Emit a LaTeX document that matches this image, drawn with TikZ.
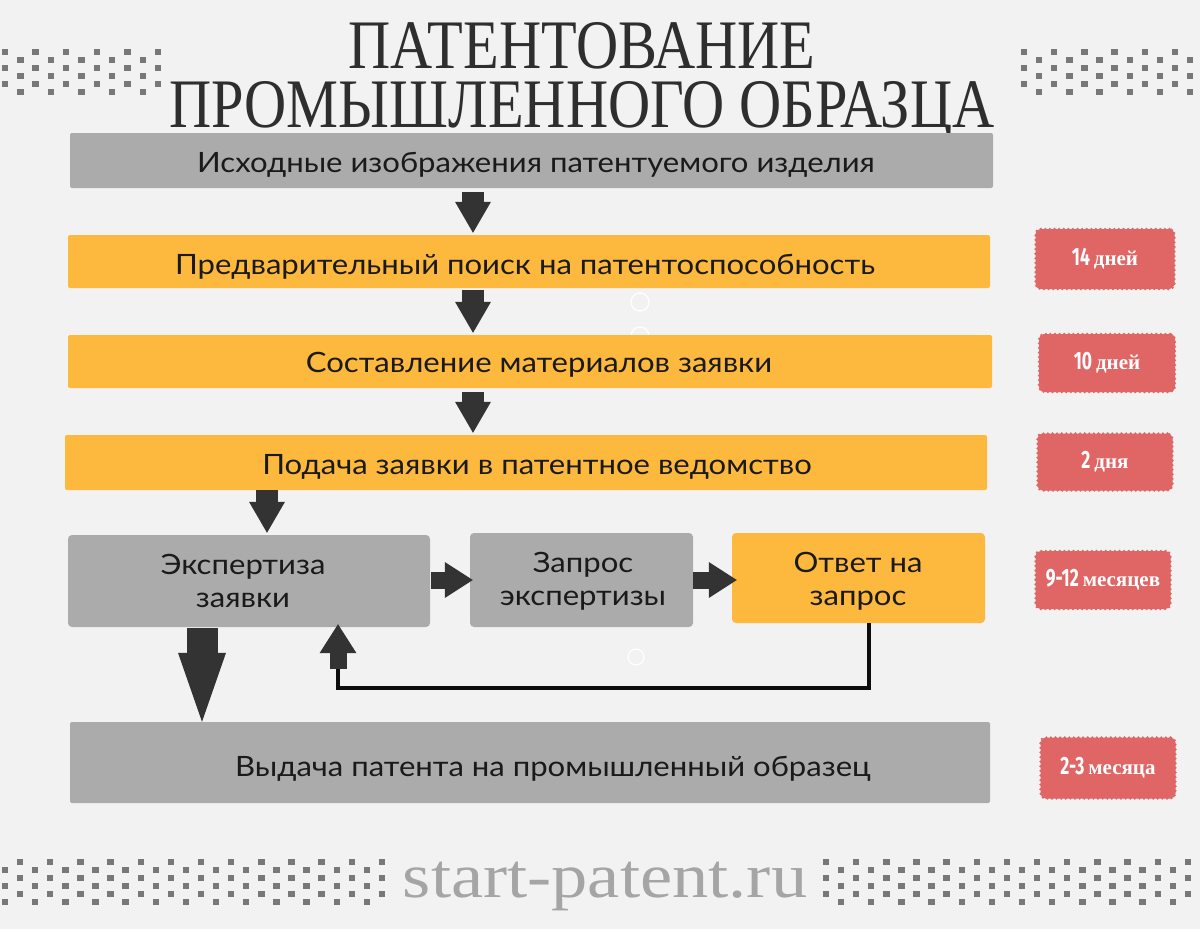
\documentclass[tikz,border=0pt]{standalone}
\usepackage{fontspec}
\usetikzlibrary{arrows.meta,calc}
\setmainfont{Liberation Serif}
\newfontfamily\titlefont{Liberation Serif}[FakeStretch=0.84]
\newfontfamily\boxfont{Lato}[FakeStretch=1.11]
\newfontfamily\numfont{Fira Sans}[FakeStretch=0.7]
\newfontfamily\unitfont{Liberation Serif}
\newfontfamily\sitefont{Liberation Serif}[FakeStretch=1.15]
\definecolor{bgc}{HTML}{F2F2F2}
\definecolor{barGray}{HTML}{ABABAB}
\definecolor{barOrange}{HTML}{FDB93D}
\definecolor{badgeRed}{HTML}{E06666}
\definecolor{arrowDark}{HTML}{333333}
\definecolor{txtDark}{HTML}{1A1A1A}
\definecolor{titleDark}{HTML}{2E2E2E}
\definecolor{siteGray}{HTML}{A5A5A5}
\definecolor{dotc}{HTML}{787878}
\newcommand\mydots[5]{%
  \foreach \k in {0,...,#3}{%
    \foreach \j in {0,...,5}{%
      \pgfmathtruncatemacro\dparity{mod(\j+\k,2)}%
      \ifnum\dparity=#4
        \fill[dotc] ({#1+\k*#5-3.2},{#2+\j*8-3.2}) rectangle ++(6.4,6.4);
      \fi
    }%
  }%
}
\newcommand\badgetxt[2]{{\numfont\bfseries\fontsize{25}{25}\selectfont #1}\hspace{4pt}{\unitfont\bfseries\fontsize{21}{21}\selectfont #2}}
\tikzset{
  bar/.style={rounded corners=2pt, inner sep=0pt},
  graybar/.style={bar, fill=barGray},
  orangebar/.style={bar, fill=barOrange},
  boxtext/.style={font=\boxfont\fontsize{28}{33}\selectfont, text=txtDark, inner sep=0pt, align=center},
  titletext/.style={font=\titlefont\fontsize{69.5}{59}\selectfont, text=titleDark, inner sep=0pt, align=center},
  badge/.style={fill=badgeRed, draw=badgeRed, line width=2.6pt, line cap=round,
    dash pattern=on 0pt off 4.6pt, inner sep=0pt, text=white, rounded corners=5pt},
  blockdown/.style={draw=arrowDark, line width=22pt,
    -{Triangle[width=36pt,length=31pt,line width=0pt]}},
  blockright/.style={draw=arrowDark, line width=17pt,
    -{Triangle[width=36pt,length=28pt,line width=0pt]}},
  blockbig/.style={draw=arrowDark, line width=31pt,
    -{Triangle[width=48pt,length=69pt,line width=0pt]}},
  blockup/.style={draw=arrowDark, line width=17pt,
    -{Triangle[width=37pt,length=29pt,line width=0pt]}},
  retline/.style={draw=black!95, line width=4pt},
  ring/.style={draw=white, line width=1.2pt},
}
\begin{document}
\begin{tikzpicture}[x=1pt,y=-1pt]
\useasboundingbox (0,0) rectangle (1200,929);
\fill[bgc] (0,0) rectangle (1200,929);

% decorative dot grids
\mydots{5}{52}{10}{0}{15.3}
\mydots{1024}{52}{11}{0}{15.1}
\mydots{5}{862}{25}{1}{15.08}
\mydots{826}{862}{24}{0}{15.08}

% faint rings
\draw[ring] (640,302) circle (9pt);
\draw[ring] (640,336) circle (9pt);
\draw[ring] (636,657) circle (8pt);

% title
\node[titletext, anchor=north] (title) at (582,22) {ПАТЕНТОВАНИЕ\\ПРОМЫШЛЕННОГО ОБРАЗЦА};

% bars
\node[graybar, minimum width=923pt, minimum height=55pt] (b1) at (531.5,160.5) {};
\node[orangebar, minimum width=922pt, minimum height=53pt] (b2) at (529,261.5) {};
\node[orangebar, minimum width=924pt, minimum height=53pt] (b3) at (530,361.5) {};
\node[orangebar, minimum width=922pt, minimum height=55pt] (b4) at (526,462.5) {};
\node[graybar, rounded corners=4pt, minimum width=362pt, minimum height=92pt] (b5) at (249,581) {};
\node[graybar, rounded corners=4pt, minimum width=223pt, minimum height=94pt] (b6) at (581.5,580) {};
\node[orangebar, rounded corners=4pt, minimum width=253pt, minimum height=90pt] (b7) at (858.5,578) {};
\node[graybar, minimum width=920pt, minimum height=81pt] (b8) at (530,762.5) {};

% texts
\node[boxtext, anchor=base] (t1) at (536,172) {Исходные изображения патентуемого изделия};
\node[boxtext, anchor=base] (t2) at (525,274) {Предварительный поиск на патентоспособность};
\node[boxtext, anchor=base] (t3) at (539,372) {Составление материалов заявки};
\node[boxtext, anchor=base] (t4) at (537,474) {Подача заявки в патентное ведомство};
\node[boxtext] (t5) at (243,581) {Экспертиза\\заявки};
\node[boxtext] (t6) at (583,581) {Запрос\\экспертизы};
\node[boxtext] (t7) at (858,581) {Ответ на\\запрос};
\node[boxtext, anchor=base] (t8) at (553,776) {Выдача патента на промышленный образец};

% arrow columns
\coordinate (cx) at (473,0);
\coordinate (cy) at (267,0);
\coordinate (cbig) at (202,0);
\coordinate (ry) at (0,580);
\coordinate (r1) at (869,0);
\coordinate (r2) at (338,688);
\coordinate (r3) at (338,667);

\draw[blockdown, shorten <=4pt] (b1.south -| cx) -- ($(b2.north -| cx)+(0,-2)$);
\draw[blockdown, shorten <=2pt] (b2.south -| cx) -- ($(b3.north -| cx)+(0,-2)$);
\draw[blockdown, shorten <=4pt] (b3.south -| cx) -- ($(b4.north -| cx)+(0,-2)$);
\draw[blockdown] (b4.south -| cy) -- ($(b5.north -| cy)+(0,-2)$);
\draw[blockright, shorten <=1pt] (b5.east |- ry) -- ($(b6.west |- ry)+(3,0)$);
\draw[blockright] (b6.east |- ry) -- ($(b7.west |- ry)+(5,0)$);
\draw[blockbig, shorten <=1pt] (b5.south -| cbig) -- (b8.north -| cbig);

% return loop
\draw[retline] (b7.south -| r1) |- (r2) -- (r3);
\draw[blockup] ($(r3)+(0,2)$) -- ($(b5.south -| r3)+(0,-3)$);

% badges
\node[badge, minimum width=139pt, minimum height=60pt] (d1) at (1105,259) {\badgetxt{14}{дней}};
\node[badge, minimum width=136pt, minimum height=58pt] (d2) at (1107,363) {\badgetxt{10}{дней}};
\node[badge, minimum width=135pt, minimum height=57pt] (d3) at (1105,462) {\badgetxt{2}{дня}};
\node[badge, minimum width=135pt, minimum height=58pt] (d4) at (1103,580) {\badgetxt{9-12}{месяцев}};
\node[badge, minimum width=135pt, minimum height=61pt] (d5) at (1108,768) {\badgetxt{2-3}{месяца}};

% site
\node[font=\sitefont\fontsize{63}{63}\selectfont, text=siteGray, anchor=base, inner sep=0pt] (site) at (605,897) {start-patent.ru};
\end{tikzpicture}
\end{document}
